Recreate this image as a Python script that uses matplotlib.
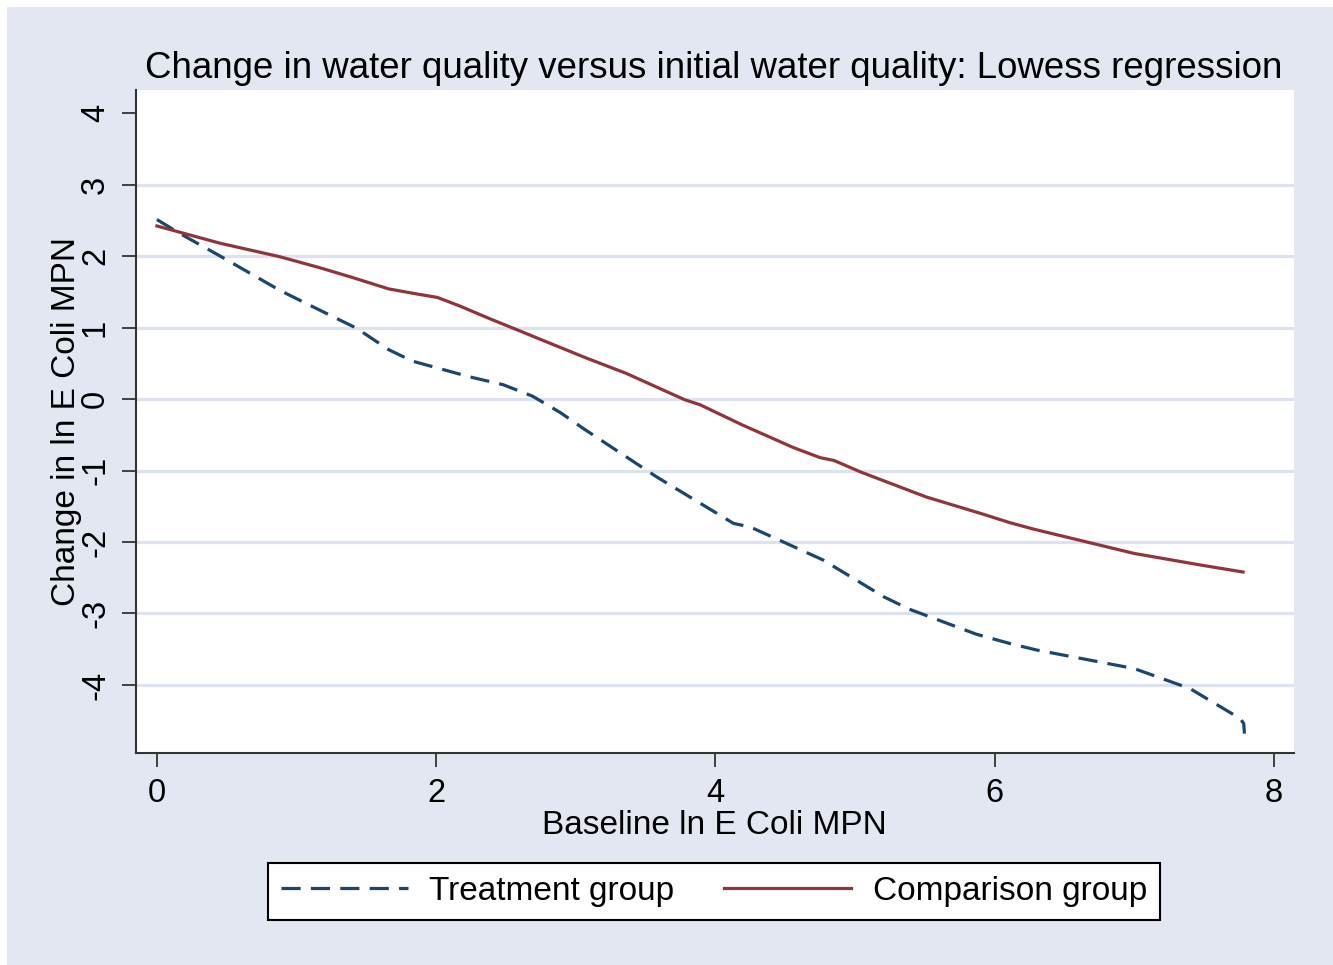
import matplotlib
matplotlib.use("Agg")
import matplotlib.pyplot as plt
from matplotlib.patches import Rectangle

plt.rcParams['font.family'] = ['Liberation Sans', 'DejaVu Sans']
plt.rcParams['axes.unicode_minus'] = False

# lowess fits
treat_x = [0.00, 0.16, 0.47, 0.88, 1.19, 1.43, 1.66, 1.83, 2.24, 2.48, 2.69, 2.89,
           3.06, 3.58, 4.13, 4.25, 4.77, 5.21, 5.39, 5.87, 6.11, 6.30, 7.00,
           7.40, 7.76, 7.785, 7.79]
treat_y = [2.51, 2.32, 1.98, 1.52, 1.22, 0.99, 0.69, 0.53, 0.31, 0.20, 0.04, -0.19,
           -0.42, -1.09, -1.74, -1.79, -2.25, -2.77, -2.94, -3.29, -3.42, -3.51, -3.77,
           -4.05, -4.47, -4.54, -4.68]

comp_x = [0.00, 0.45, 0.88, 1.16, 1.40, 1.66, 1.83, 2.01, 2.17, 2.40, 2.59, 2.79,
          3.08, 3.36, 3.78, 3.89, 4.19, 4.56, 4.75, 4.85, 5.04, 5.51, 5.90, 6.11,
          6.28, 7.00, 7.47, 7.78]
comp_y = [2.42, 2.18, 1.99, 1.84, 1.70, 1.54, 1.48, 1.42, 1.30, 1.11, 0.96, 0.80,
          0.57, 0.36, -0.01, -0.08, -0.36, -0.68, -0.82, -0.86, -1.02, -1.37, -1.60, -1.73,
          -1.82, -2.16, -2.32, -2.42]

x_ticks = [0, 2, 4, 6, 8]
y_ticks = [-4, -3, -2, -1, 0, 1, 2, 3, 4]
grid_vals = [-4, -3, -2, -1, 0, 1, 2, 3]

navy = '#1A476F'
maroon = '#90353B'
bg = '#E2E7F1'
gridc = '#DDE3EE'

W, H = 1333, 965
fig = plt.figure(figsize=(W / 100, H / 100), dpi=100, facecolor='white')
fig.patches.append(Rectangle((7 / W, 0), 1, 1 - 7 / H, transform=fig.transFigure,
                             facecolor=bg, edgecolor='none', zorder=-10))

ax = fig.add_axes([136 / W, (H - 752.7) / H, 1158 / W, 662.7 / H])
ax.set_facecolor('white')

for g in grid_vals:
    ax.axhline(g, color=gridc, lw=2.3, zorder=1)

ax.plot(treat_x, treat_y, color=navy, lw=2.3, linestyle=(0, (6, 3.2)),
        label='Treatment group', zorder=3)
ax.plot(comp_x, comp_y, color=maroon, lw=2.3, label='Comparison group', zorder=3)

ax.set_xlim(-0.150, 8.145)
ax.set_ylim(-4.947, 4.322)
ax.set_xticks(x_ticks)
ax.set_yticks(y_ticks)
ax.tick_params(axis='both', direction='out', length=10, width=1.3, color='#333333',
               labelsize=23.5, pad=8)
for lab in ax.get_yticklabels():
    lab.set_rotation(90)
    lab.set_va('center')

for s in ['top', 'right']:
    ax.spines[s].set_visible(False)
for s in ['left', 'bottom']:
    ax.spines[s].set_color('#333333')
    ax.spines[s].set_linewidth(1.5)

fig.text(714 / W, 1 - 78.3 / H, 'Change in water quality versus initial water quality: Lowess regression',
         ha='center', va='baseline', fontsize=26.4)
fig.text(714 / W, 1 - 834 / H, 'Baseline ln E Coli MPN', ha='center', va='baseline', fontsize=24)
fig.text(75 / W, 1 - 422 / H, 'Change in ln E Coli MPN', ha='center', va='baseline',
         rotation=90, rotation_mode='anchor', fontsize=24)

leg = fig.legend(loc='center', bbox_to_anchor=(714 / W, 1 - 891.5 / H), ncol=2,
                 fontsize=24, frameon=True, fancybox=False, edgecolor='black',
                 framealpha=1, handlelength=3.8, handletextpad=0.65, columnspacing=1.5,
                 borderpad=0.4)
leg.get_frame().set_linewidth(1.5)
leg.get_frame().set_facecolor('white')

fig.savefig('out.png', dpi=100, facecolor=fig.get_facecolor())
